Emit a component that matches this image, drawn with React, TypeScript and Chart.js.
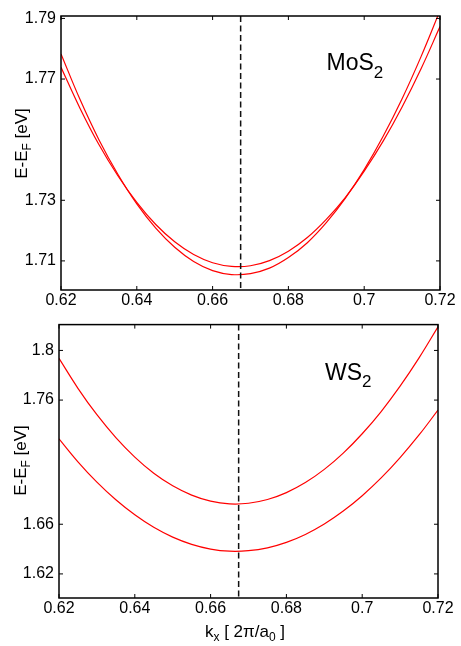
import React, { useEffect, useRef } from "react";
import { Chart, registerables } from "chart.js";

Chart.register(...registerables);

// ---------- data ----------
const K = [0.62, 0.625, 0.63, 0.635, 0.64, 0.645, 0.65, 0.655, 0.66, 0.665, 0.67, 0.675, 0.68, 0.685, 0.69, 0.695, 0.7, 0.705, 0.71, 0.715, 0.72];

const MOS2_BAND_A = [1.7783, 1.7633, 1.75, 1.7386, 1.7288, 1.7208, 1.7145, 1.7098, 1.7068, 1.7055, 1.7058, 1.7076, 1.7111, 1.716, 1.7226, 1.7306, 1.7401, 1.7511, 1.7635, 1.7774, 1.7926];
const MOS2_BAND_B = [1.7739, 1.7604, 1.7484, 1.7381, 1.7293, 1.722, 1.7163, 1.7121, 1.7094, 1.7082, 1.7084, 1.7101, 1.7132, 1.7177, 1.7237, 1.7309, 1.7396, 1.7495, 1.7608, 1.7734, 1.7873];

const WS2_BAND_UPPER = [1.7936, 1.7695, 1.7482, 1.7298, 1.7141, 1.7011, 1.691, 1.6835, 1.6786, 1.6764, 1.6769, 1.6799, 1.6855, 1.6936, 1.7042, 1.7173, 1.7329, 1.7508, 1.7712, 1.794, 1.819];
const WS2_BAND_LOWER = [1.7288, 1.7103, 1.6939, 1.6797, 1.6676, 1.6575, 1.6496, 1.6438, 1.64, 1.6383, 1.6387, 1.641, 1.6454, 1.6518, 1.6602, 1.6706, 1.683, 1.6973, 1.7137, 1.7319, 1.752];

const K_POINT = 0.6674;

const X_TICKS = [0.62, 0.64, 0.66, 0.68, 0.7, 0.72];
const X_RANGE = [0.62, 0.72];

const MOS2_Y_TICKS = [1.71, 1.73, 1.77, 1.79];
const MOS2_Y_RANGE = [1.7004, 1.7908];

const WS2_Y_TICKS = [1.62, 1.66, 1.76, 1.8];
const WS2_Y_RANGE = [1.6006, 1.8208];

// ---------- helpers ----------
const FONT = "'Liberation Sans', Arial, Helvetica, sans-serif";

type Run = { t: string; size: number; dy: number };

function drawRuns(ctx: CanvasRenderingContext2D, runs: Run[], x: number, y: number, center: boolean) {
  const widths = runs.map((r) => {
    ctx.font = `${r.size}px ${FONT}`;
    return ctx.measureText(r.t).width;
  });
  const total = widths.reduce((a, b) => a + b, 0);
  let cx = center ? x - total / 2 : x;
  ctx.textAlign = "left";
  ctx.textBaseline = "alphabetic";
  runs.forEach((r, i) => {
    ctx.font = `${r.size}px ${FONT}`;
    ctx.fillText(r.t, cx, y + r.dy);
    cx += widths[i];
  });
}

type PanelCfg = {
  label: Run[];
  labelX: number;
  labelY: number;
  yTitleX: number;
  yTitleY: number;
  xTitle: boolean;
  xTitleX: number;
  xTitleY: number;
};

function decoPlugin(cfg: PanelCfg) {
  return {
    id: "panelDeco",
    afterDatasetsDraw(chart: any) {
      const ctx: CanvasRenderingContext2D = chart.ctx;
      const a = chart.chartArea;
      const xs = chart.scales.x;
      const ys = chart.scales.y;
      ctx.save();
      // dashed K-point line
      const kx = xs.getPixelForValue(K_POINT);
      ctx.strokeStyle = "#111";
      ctx.lineWidth = 1.5;
      ctx.setLineDash([6, 3.5]);
      ctx.beginPath();
      ctx.moveTo(kx, a.top);
      ctx.lineTo(kx, a.bottom);
      ctx.stroke();
      ctx.setLineDash([]);
      // inner ticks
      ctx.strokeStyle = "#000";
      ctx.lineWidth = 1;
      const TL = 4;
      xs.ticks.forEach((t: any) => {
        const p = xs.getPixelForValue(t.value);
        ctx.beginPath();
        ctx.moveTo(p, a.bottom);
        ctx.lineTo(p, a.bottom - TL);
        ctx.moveTo(p, a.top);
        ctx.lineTo(p, a.top + TL);
        ctx.stroke();
      });
      ys.ticks.forEach((t: any) => {
        const p = ys.getPixelForValue(t.value);
        ctx.beginPath();
        ctx.moveTo(a.left, p);
        ctx.lineTo(a.left + TL, p);
        ctx.moveTo(a.right, p);
        ctx.lineTo(a.right - TL, p);
        ctx.stroke();
      });
      // frame
      ctx.lineWidth = 1.5;
      ctx.strokeRect(a.left, a.top, a.right - a.left, a.bottom - a.top);
      // material label
      ctx.fillStyle = "#000";
      drawRuns(ctx, cfg.label, cfg.labelX, cfg.labelY, false);
      // y title
      ctx.save();
      ctx.translate(cfg.yTitleX, cfg.yTitleY);
      ctx.rotate(-Math.PI / 2);
      drawRuns(
        ctx,
        [
          { t: "E-E", size: 17, dy: 0 },
          { t: "F", size: 12, dy: 4 },
          { t: " [eV]", size: 17, dy: 0 },
        ],
        0,
        0,
        true
      );
      ctx.restore();
      if (cfg.xTitle) {
        drawRuns(
          ctx,
          [
            { t: "k", size: 17, dy: 0 },
            { t: "x", size: 12, dy: 4 },
            { t: " [ 2\u03c0/a", size: 17, dy: 0 },
            { t: "0", size: 12, dy: 4 },
            { t: " ]", size: 17, dy: 0 },
          ],
          cfg.xTitleX,
          cfg.xTitleY,
          true
        );
      }
      ctx.restore();
    },
  };
}

const fmt = (v: number) => String(Number(v.toFixed(4)));

function makeChart(
  canvas: HTMLCanvasElement,
  bandA: number[],
  bandB: number[],
  yTicks: number[],
  yRange: number[],
  pad: { top: number; right: number },
  yWidth: number,
  xHeight: number,
  cfg: PanelCfg
) {
  const mk = (arr: number[]) => K.map((k, i) => ({ x: k, y: arr[i] }));
  const ds = (arr: number[]) => ({
    data: mk(arr),
    borderColor: "#ff0000",
    borderWidth: 1.2,
    pointRadius: 0,
    tension: 0.4,
    fill: false,
  });
  return new Chart(canvas, {
    type: "line",
    data: { datasets: [ds(bandA), ds(bandB)] },
    plugins: [decoPlugin(cfg)],
    options: {
      animation: false,
      responsive: false,
      maintainAspectRatio: false,
      layout: { padding: { top: pad.top, right: pad.right, left: 0, bottom: 0 } },
      plugins: { legend: { display: false }, tooltip: { enabled: false } },
      scales: {
        x: {
          type: "linear",
          min: X_RANGE[0],
          max: X_RANGE[1],
          grid: { display: false, drawTicks: false },
          border: { display: false },
          afterBuildTicks: (s: any) => {
            s.ticks = X_TICKS.map((v) => ({ value: v }));
          },
          afterFit: (s: any) => {
            s.height = xHeight;
          },
          ticks: {
            autoSkip: false,
            maxRotation: 0,
            padding: 1,
            color: "#000",
            font: { family: FONT, size: 16 },
            callback: (v: any) => fmt(Number(v)),
          },
        },
        y: {
          type: "linear",
          min: yRange[0],
          max: yRange[1],
          grid: { display: false, drawTicks: false },
          border: { display: false },
          afterBuildTicks: (s: any) => {
            s.ticks = yTicks.map((v) => ({ value: v }));
          },
          afterFit: (s: any) => {
            s.width = yWidth;
          },
          ticks: {
            autoSkip: false,
            padding: 5,
            color: "#000",
            font: { family: FONT, size: 16 },
            callback: (v: any) => fmt(Number(v)),
          },
        },
      },
    } as any,
  });
}

export default function App() {
  const topRef = useRef<HTMLCanvasElement>(null);
  const botRef = useRef<HTMLCanvasElement>(null);

  useEffect(() => {
    const c1 = makeChart(
      topRef.current!,
      MOS2_BAND_A,
      MOS2_BAND_B,
      MOS2_Y_TICKS,
      MOS2_Y_RANGE,
      { top: 16, right: 21 },
      61,
      30,
      {
        label: [
          { t: "MoS", size: 23, dy: 0 },
          { t: "2", size: 17, dy: 8 },
        ],
        labelX: 326.5,
        labelY: 69.5,
        yTitleX: 27,
        yTitleY: 143.5,
        xTitle: false,
        xTitleX: 0,
        xTitleY: 0,
      }
    );
    const c2 = makeChart(
      botRef.current!,
      WS2_BAND_UPPER,
      WS2_BAND_LOWER,
      WS2_Y_TICKS,
      WS2_Y_RANGE,
      { top: 13, right: 23 },
      59,
      48,
      {
        label: [
          { t: "WS", size: 23, dy: 0 },
          { t: "2", size: 17, dy: 7 },
        ],
        labelX: 325,
        labelY: 70,
        yTitleX: 26,
        yTitleY: 150.5,
        xTitle: true,
        xTitleX: 245,
        xTitleY: 327,
      }
    );
    return () => {
      c1.destroy();
      c2.destroy();
    };
  }, []);

  return (
    <div style={{ position: "absolute", left: 0, top: 0, width: 461, height: 646, background: "#fff" }}>
      <canvas ref={topRef} width={461} height={320} style={{ position: "absolute", left: 0, top: 0, width: 461, height: 320 }} />
      <canvas ref={botRef} width={461} height={336} style={{ position: "absolute", left: 0, top: 310, width: 461, height: 336 }} />
    </div>
  );
}
